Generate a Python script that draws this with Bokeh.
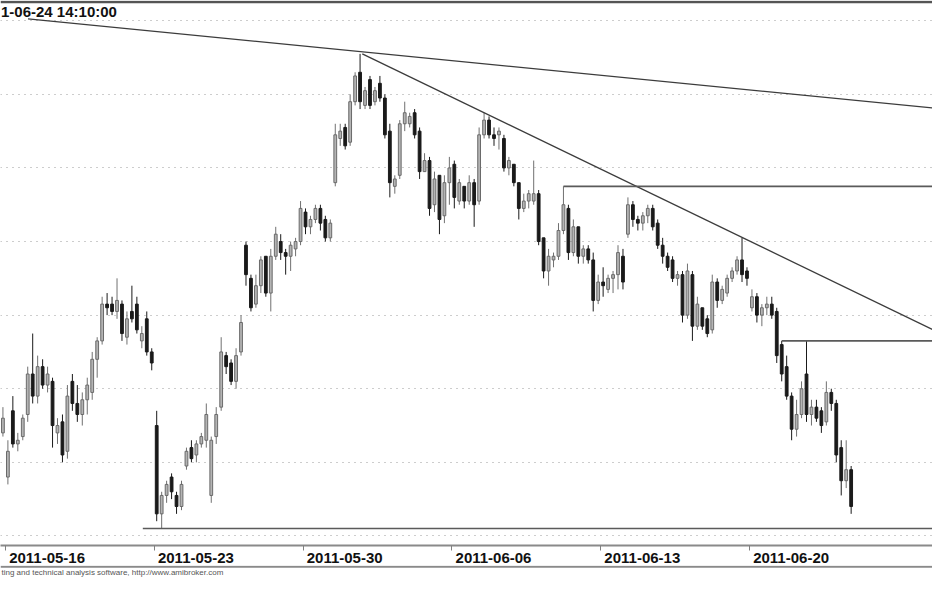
import numpy as np
from bokeh.plotting import figure
from bokeh.layouts import column
from bokeh.models import FixedTicker, Span, Label, ColumnDataSource
from bokeh.embed import file_html
from bokeh.resources import INLINE

# ---------------- data ----------------
trading_days = ["2011-05-16", "2011-05-17", "2011-05-18", "2011-05-19", "2011-05-20",
                "2011-05-23", "2011-05-24", "2011-05-25", "2011-05-26", "2011-05-27",
                "2011-05-30", "2011-05-31", "2011-06-01", "2011-06-02", "2011-06-03",
                "2011-06-06", "2011-06-07", "2011-06-08", "2011-06-09", "2011-06-10",
                "2011-06-13", "2011-06-14", "2011-06-15", "2011-06-16", "2011-06-17",
                "2011-06-20", "2011-06-21", "2011-06-22", "2011-06-24"]
week_labels = ["2011-05-16", "2011-05-23", "2011-05-30", "2011-06-06", "2011-06-13", "2011-06-20"]
bars_per_day = 6
bars_before_first_day = 1

open_ = [2768, 2756, 2774, 2765, 2767, 2773, 2784, 2778, 2786, 2781, 2782, 2768, 2771,
         2763, 2782, 2776, 2773, 2777, 2779, 2788, 2793, 2803, 2803, 2801, 2803,
         2794, 2801, 2803, 2793, 2799, 2790, 2770, 2746, 2751, 2756, 2751, 2748,
         2759, 2764, 2762, 2765, 2766, 2751, 2767, 2775, 2789, 2787, 2782, 2790,
         2819, 2810, 2803, 2808, 2816, 2806, 2816, 2820, 2817, 2816, 2818, 2820,
         2828, 2824, 2826, 2829, 2826, 2821, 2836, 2848, 2851, 2847, 2858, 2866,
         2857, 2864, 2858, 2863, 2859, 2850, 2835, 2838, 2852, 2852, 2855, 2850,
         2839, 2842, 2830, 2838, 2827, 2836, 2841, 2831, 2835, 2831, 2836, 2831,
         2849, 2853, 2849, 2849, 2848, 2840, 2841, 2836, 2829, 2831, 2831, 2833,
         2821, 2812, 2815, 2816, 2823, 2829, 2817, 2824, 2816, 2818, 2815, 2804,
         2809, 2807, 2810, 2811, 2816, 2822, 2830, 2826, 2825, 2827, 2829, 2825,
         2819, 2816, 2815, 2810, 2811, 2800, 2811, 2797, 2802, 2799, 2796, 2809,
         2804, 2806, 2810, 2812, 2815, 2812, 2802, 2805, 2800, 2802, 2803, 2801,
         2792, 2786, 2778, 2769, 2773, 2784, 2773, 2775, 2774, 2771, 2779, 2776,
         2764, 2755, 2758]
high = [2775, 2766, 2778, 2768, 2773, 2786, 2795, 2789, 2788, 2786, 2783, 2772, 2773,
        2781, 2784, 2781, 2779, 2783, 2790, 2794, 2805, 2806, 2805, 2810, 2804,
        2801, 2808, 2805, 2797, 2801, 2791, 2774, 2752, 2755, 2757, 2752, 2755,
        2764, 2766, 2766, 2768, 2776, 2767, 2775, 2794, 2790, 2788, 2791, 2800,
        2820, 2811, 2811, 2816, 2816, 2818, 2824, 2822, 2818, 2820, 2821, 2831,
        2829, 2827, 2830, 2830, 2827, 2826, 2852, 2852, 2852, 2860, 2866, 2871,
        2862, 2865, 2862, 2865, 2860, 2852, 2838, 2853, 2858, 2855, 2856, 2851,
        2844, 2843, 2839, 2838, 2838, 2843, 2842, 2837, 2835, 2838, 2837, 2851,
        2855, 2854, 2851, 2851, 2849, 2843, 2841, 2836, 2833, 2834, 2842, 2834,
        2821, 2818, 2817, 2825, 2835, 2830, 2826, 2824, 2819, 2819, 2817, 2811,
        2813, 2811, 2812, 2819, 2818, 2832, 2831, 2827, 2828, 2830, 2830, 2826,
        2821, 2817, 2816, 2812, 2812, 2814, 2812, 2805, 2802, 2800, 2811, 2810,
        2808, 2811, 2813, 2816, 2821, 2813, 2807, 2806, 2803, 2805, 2805, 2802,
        2793, 2789, 2779, 2777, 2782, 2793, 2777, 2777, 2775, 2782, 2780, 2777,
        2766, 2766, 2759]
low = [2767, 2754, 2764, 2763, 2766, 2771, 2776, 2776, 2780, 2779, 2764, 2765, 2760,
       2761, 2774, 2771, 2770, 2773, 2777, 2783, 2792, 2800, 2800, 2799, 2793,
       2792, 2798, 2795, 2791, 2789, 2785, 2744, 2742, 2749, 2750, 2746, 2747,
       2758, 2760, 2760, 2764, 2764, 2749, 2765, 2774, 2784, 2781, 2780, 2789,
       2808, 2801, 2802, 2806, 2805, 2801, 2815, 2815, 2811, 2812, 2816, 2819,
       2822, 2822, 2825, 2823, 2820, 2820, 2835, 2846, 2845, 2846, 2857, 2856,
       2856, 2856, 2857, 2858, 2848, 2832, 2833, 2837, 2850, 2851, 2848, 2837,
       2839, 2827, 2828, 2822, 2825, 2830, 2829, 2830, 2829, 2830, 2824, 2830,
       2848, 2848, 2846, 2845, 2839, 2838, 2835, 2826, 2828, 2829, 2830, 2819,
       2810, 2808, 2813, 2815, 2822, 2815, 2816, 2814, 2814, 2814, 2801, 2803,
       2805, 2806, 2806, 2807, 2807, 2821, 2824, 2823, 2823, 2825, 2823, 2818,
       2814, 2812, 2809, 2808, 2798, 2799, 2793, 2796, 2796, 2794, 2795, 2802,
       2803, 2805, 2809, 2811, 2809, 2808, 2801, 2798, 2797, 2800, 2799, 2787,
       2782, 2777, 2766, 2767, 2772, 2771, 2770, 2771, 2768, 2770, 2774, 2760,
       2751, 2753, 2746]
close = [2772, 2763, 2765, 2766, 2772, 2784, 2778, 2786, 2781, 2784, 2770, 2770, 2762,
         2778, 2776, 2773, 2777, 2781, 2788, 2793, 2803, 2802, 2801, 2804, 2795,
         2799, 2799, 2796, 2795, 2790, 2787, 2746, 2751, 2754, 2752, 2748, 2754,
         2763, 2761, 2765, 2767, 2773, 2766, 2773, 2790, 2786, 2782, 2789, 2798,
         2811, 2802, 2808, 2815, 2806, 2816, 2822, 2817, 2816, 2819, 2820, 2829,
         2824, 2826, 2829, 2825, 2821, 2825, 2849, 2850, 2846, 2858, 2865, 2858,
         2861, 2857, 2861, 2859, 2849, 2836, 2837, 2852, 2855, 2854, 2849, 2839,
         2842, 2829, 2837, 2826, 2836, 2840, 2832, 2836, 2831, 2836, 2830, 2849,
         2853, 2849, 2848, 2850, 2840, 2842, 2836, 2829, 2831, 2833, 2833, 2820,
         2812, 2816, 2816, 2823, 2830, 2817, 2824, 2816, 2818, 2815, 2804, 2809,
         2808, 2810, 2811, 2817, 2809, 2830, 2826, 2825, 2827, 2829, 2824, 2819,
         2816, 2813, 2810, 2811, 2800, 2812, 2797, 2803, 2797, 2795, 2809, 2804,
         2807, 2810, 2812, 2815, 2811, 2810, 2805, 2800, 2802, 2803, 2800, 2789,
         2784, 2778, 2769, 2773, 2780, 2773, 2775, 2772, 2770, 2779, 2776, 2762,
         2755, 2758, 2748]

# trend lines drawn on the chart (bar index, price)
trend_x0 = [5.06, 72.45]
trend_y0 = [2880.5, 2871.0]
trend_x1 = [187.4, 187.4]
trend_y1 = [2856.3, 2796.1]
# horizontal support / resistance lines (start bar, price)
hline_x0 = [113, 157, 28.2]
hline_y = [2835, 2793, 2742]

grid_levels = [2740, 2760, 2780, 2800, 2820, 2840, 2860, 2880]
title_text = "1-06-24 14:10:00"
footer_text = "ting and technical analysis software, http://www.amibroker.com"

# ---------------- main chart ----------------
X_START, X_END = -0.49, 187.4
Y_START, Y_END = 2737.4, 2885.5

p = figure(width=932, height=565, x_range=(X_START, X_END), y_range=(Y_START, Y_END),
           output_backend="svg", toolbar_location=None, y_axis_location=None,
           min_border_left=0, min_border_right=0, min_border_top=0, min_border_bottom=19,
           background_fill_color="white", border_fill_color="white")
p.outline_line_color = None
p.xgrid.visible = False
p.ygrid.ticker = FixedTicker(ticks=grid_levels)
p.ygrid.grid_line_color = "#9a9a9a"
p.ygrid.grid_line_dash = "1 5"
p.ygrid.grid_line_width = 1

o = np.array(open_, float); h = np.array(high, float)
l = np.array(low, float); c = np.array(close, float)
x = np.arange(len(c))
up = c >= o
dn = ~up

src_up = ColumnDataSource(dict(x=x[up], h=h[up], l=l[up], top=c[up], bot=o[up]))
src_dn = ColumnDataSource(dict(x=x[dn], h=h[dn], l=l[dn], top=o[dn], bot=c[dn]))

p.segment(x0="x", y0="l", x1="x", y1="h", source=src_up, line_color="#707070", line_width=1)
p.vbar(x="x", width=0.56, top="top", bottom="bot", source=src_up,
       fill_color="#b4b4b4", line_color="#6a6a6a", line_width=1)
p.segment(x0="x", y0="l", x1="x", y1="h", source=src_dn, line_color="#1a1a1a", line_width=1)
p.vbar(x="x", width=0.56, top="top", bottom="bot", source=src_dn,
       fill_color="#1a1a1a", line_color="#1a1a1a", line_width=1)

# trend lines
p.segment(x0=trend_x0, y0=trend_y0, x1=trend_x1, y1=trend_y1,
          line_color="#3c3c3c", line_width=1.3)
p.segment(x0=hline_x0, y0=hline_y, x1=[X_END] * len(hline_y), y1=hline_y,
          line_color="#5a5a5a", line_width=1.6)

# top border
p.add_layout(Span(location=2885.1, dimension="width", line_color="#555555", line_width=2.5))

# chart caption
p.add_layout(Label(x=X_START + 0.1, y=2884.7, text=title_text, text_font="Liberation Sans",
                   text_font_size="15px", text_font_style="bold", text_color="#111111",
                   text_baseline="top", text_align="left"))

# x axis: minor ticks at week starts, labels placed just right of them
boundaries = [bars_before_first_day + bars_per_day * trading_days.index(d) - 0.5 for d in week_labels]
label_offset = 8.4
label_pos = [b + label_offset for b in boundaries]
ax = p.xaxis[0]
ax.ticker = FixedTicker(ticks=label_pos, minor_ticks=boundaries)
ax.major_label_overrides = {lp: lab for lp, lab in zip(label_pos, week_labels)}
ax.major_tick_line_color = None
ax.major_tick_out = 0
ax.major_tick_in = 0
ax.minor_tick_out = 5
ax.minor_tick_in = 0
ax.minor_tick_line_color = "#808080"
ax.axis_line_color = "#8a8a8a"
ax.axis_line_width = 2
ax.major_label_standoff = 2
ax.major_label_text_font = "Liberation Sans"
ax.major_label_text_font_size = "15px"
ax.major_label_text_font_style = "bold"
ax.major_label_text_color = "#111111"

# ---------------- footer strip: lower rule + (cropped) vendor footer ----------------
f = figure(width=932, height=12, x_range=(0, 1), y_range=(0, 12),
           output_backend="svg", toolbar_location=None,
           x_axis_location=None, y_axis_location=None,
           min_border_left=0, min_border_right=0, min_border_top=0, min_border_bottom=0,
           background_fill_color="white", border_fill_color="white")
f.outline_line_color = None
f.xgrid.visible = False
f.ygrid.visible = False
f.add_layout(Span(location=10.8, dimension="width", line_color="#8a8a8a", line_width=2))
f.add_layout(Label(x=1, y=9.3, x_units="screen", text=footer_text,
                   text_font="Liberation Sans", text_font_size="8px", text_color="#555555",
                   text_baseline="top", text_align="left"))

layout = column(p, f, spacing=0)
open("out.html", "w").write(file_html(layout, INLINE))
